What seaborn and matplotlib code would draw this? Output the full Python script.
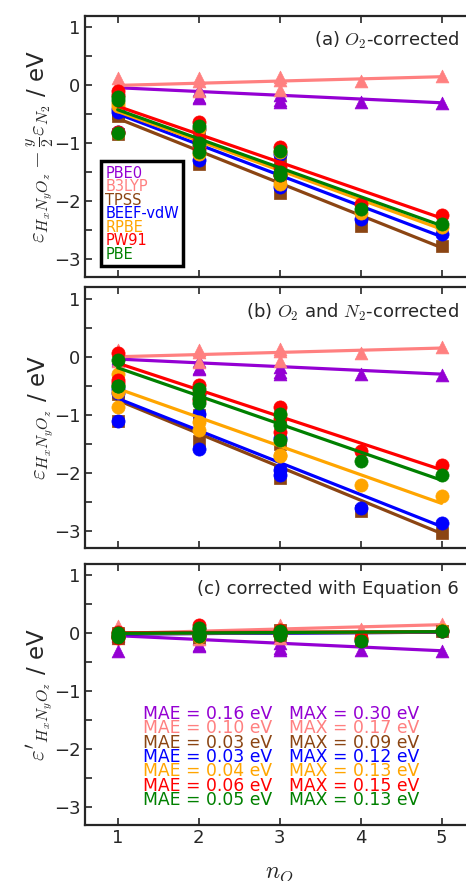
import matplotlib
matplotlib.use("Agg")
import matplotlib.pyplot as plt
import pandas as pd
import seaborn as sns
from matplotlib.ticker import MultipleLocator

functionals = ["PBE0", "B3LYP", "TPSS", "BEEF-vdW", "RPBE", "PW91", "PBE"]
colors = ["darkviolet", "#ff8080", "saddlebrown", "blue", "orange", "red", "green"]
markers = ["^", "^", "s", "o", "o", "o", "o"]
sizes = [85, 85, 70, 90, 90, 90, 90]

# number of O atoms of each compound
n_o = [1, 1, 1, 2, 2, 2, 3, 3, 3, 4, 5]

# hybrids: same in every panel
pbe0 = [-0.03, -0.05, -0.31, -0.08, -0.20, -0.21, -0.17, -0.26, -0.29, -0.29, -0.31]
b3lyp = [0.12, 0.03, -0.08, 0.12, -0.09, 0.08, 0.14, -0.08, 0.10, 0.07, 0.16]

# (a) O2-corrected
a_tpss = [-0.48, -0.52, -0.84, -0.80, -1.10, -1.35, -1.25, -1.60, -1.85, -2.43, -2.77]
a_beef = [-0.40, -0.46, -0.80, -0.75, -1.05, -1.29, -1.18, -1.55, -1.76, -2.31, -2.56]
a_rpbe = [-0.30, -0.36, -0.82, -0.75, -1.05, -1.19, -1.15, -1.55, -1.70, -2.20, -2.45]
a_pw91 = [-0.10, -0.16, -0.80, -0.64, -0.95, -1.10, -1.06, -1.40, -1.55, -2.04, -2.24]
a_pbe = [-0.20, -0.25, -0.82, -0.70, -1.00, -1.15, -1.13, -1.50, -1.55, -2.14, -2.40]

# (b) O2 and N2-corrected
b_tpss = [-0.60, -0.65, -1.11, -0.68, -1.00, -1.45, -1.50, -1.95, -2.09, -2.67, -3.05]
b_beef = [-0.55, -0.62, -1.11, -0.65, -0.98, -1.59, -1.40, -1.95, -2.04, -2.61, -2.87]
b_rpbe = [-0.30, -0.60, -0.86, -0.60, -1.12, -1.26, -1.00, -1.70, -1.72, -2.21, -2.41]
b_pw91 = [0.06, -0.40, -0.45, -0.48, -0.63, -0.75, -0.86, -1.08, -1.30, -1.63, -1.86]
b_pbe = [-0.06, -0.50, -0.50, -0.55, -0.72, -0.80, -0.98, -1.18, -1.43, -1.80, -2.04]

# (c) corrected with Equation 6
c_tpss = [0.00, -0.05, -0.08, 0.06, -0.02, -0.06, 0.05, 0.00, -0.03, -0.11, 0.04]
c_beef = [-0.01, -0.05, -0.06, 0.07, -0.02, -0.05, 0.04, 0.01, -0.03, -0.12, 0.04]
c_rpbe = [0.01, -0.04, -0.06, 0.08, -0.02, -0.06, 0.05, 0.00, -0.02, -0.10, 0.05]
c_pw91 = [0.02, -0.04, -0.08, 0.14, -0.01, -0.05, 0.05, 0.01, -0.03, -0.08, 0.04]
c_pbe = [0.00, -0.04, -0.06, 0.10, -0.02, -0.05, 0.04, 0.01, -0.02, -0.13, 0.04]

# linear fits, values at n_O = 1 and n_O = 5
fit_n = [1, 5]
fit_pbe0 = [-0.04, -0.30]
fit_b3lyp = [0.00, 0.15]
fit_a = {"TPSS": [-0.57, -2.80], "BEEF-vdW": [-0.49, -2.61], "RPBE": [-0.45, -2.48],
         "PW91": [-0.36, -2.29], "PBE": [-0.42, -2.42]}
fit_b = {"TPSS": [-0.75, -3.05], "BEEF-vdW": [-0.72, -2.93], "RPBE": [-0.55, -2.53],
         "PW91": [-0.11, -1.95], "PBE": [-0.19, -2.13]}
fit_c = {"TPSS": [-0.01, 0.02], "BEEF-vdW": [-0.01, 0.02], "RPBE": [0.00, 0.03],
         "PW91": [0.01, 0.03], "PBE": [0.00, 0.03]}

mae = [0.16, 0.10, 0.03, 0.03, 0.04, 0.06, 0.05]
max_err = [0.30, 0.17, 0.09, 0.12, 0.13, 0.15, 0.13]

panels = [
    ("(a) $O_2$-corrected", [pbe0, b3lyp, a_tpss, a_beef, a_rpbe, a_pw91, a_pbe], fit_a,
     r"$\varepsilon_{H_xN_yO_z} - \frac{y}{2}\varepsilon_{N_2}$ / eV"),
    ("(b) $O_2$ and $N_2$-corrected", [pbe0, b3lyp, b_tpss, b_beef, b_rpbe, b_pw91, b_pbe], fit_b,
     r"$\varepsilon_{H_xN_yO_z}$ / eV"),
    ("(c) corrected with Equation 6", [pbe0, b3lyp, c_tpss, c_beef, c_rpbe, c_pw91, c_pbe], fit_c,
     r"$\varepsilon'_{H_xN_yO_z}$ / eV"),
]

sns.set_theme(style="ticks")
plt.rcParams["font.family"] = ["DejaVu Sans"]
plt.rcParams["mathtext.fontset"] = "cm"
plt.rcParams["axes.linewidth"] = 1.6

figure = plt.figure(figsize=(4.66, 8.81), dpi=100)
bottoms = [0.686, 0.378, 0.064]
axes = []
for (title, series, fits, ylabel), bottom in zip(panels, bottoms):
    axis = figure.add_axes([0.183, bottom, 0.834, 0.296])
    axes.append(axis)
    for name, color, marker, size, values in zip(functionals, colors, markers, sizes, series):
        if name == "PBE0":
            fit_values = fit_pbe0
        elif name == "B3LYP":
            fit_values = fit_b3lyp
        else:
            fit_values = fits[name]
        points = pd.DataFrame({"n_O": n_o, "energy": values})
        fit_line = pd.DataFrame({"n_O": fit_n, "energy": fit_values})
        sns.scatterplot(data=points, x="n_O", y="energy", color=color, marker=marker, s=size,
                        edgecolor=color, linewidth=0.5, ax=axis, zorder=3, label=name)
        sns.lineplot(data=fit_line, x="n_O", y="energy", color=color, linewidth=2.3, ax=axis,
                     zorder=3)
    axis.set_xlim(0.6, 5.4)
    axis.set_ylim(-3.3, 1.2)
    axis.xaxis.set_major_locator(MultipleLocator(1))
    axis.yaxis.set_major_locator(MultipleLocator(1))
    axis.yaxis.set_minor_locator(MultipleLocator(0.5))
    axis.tick_params(axis="both", which="both", direction="in", top=True, right=False,
                     labelsize=13, width=1.2)
    axis.tick_params(axis="both", which="major", length=5)
    axis.tick_params(axis="y", which="minor", length=5)
    axis.set_ylabel(ylabel, fontsize=16.5)
    axis.yaxis.set_label_coords(-0.075, 0.5)
    axis.set_xlabel("")
    axis.text(0.962, 0.905, title, transform=axis.transAxes, ha="right", va="center",
              fontsize=13)
    if axis.get_legend() is not None:
        axis.get_legend().remove()

for axis in axes[:2]:
    axis.tick_params(axis="x", labelbottom=False)
axes[2].set_xlabel("$n_O$", fontsize=17, labelpad=9)

handles, labels = axes[0].get_legend_handles_labels()
legend = axes[0].legend(handles[:7], labels[:7], loc="lower left", bbox_to_anchor=(0.04, 0.04),
                        borderaxespad=0, handlelength=0, handletextpad=0, labelspacing=-0.1,
                        fontsize=10.5, frameon=True, fancybox=False, framealpha=1,
                        edgecolor="black", borderpad=0.3)
legend.get_frame().set_linewidth(2.5)
for handle in legend.legend_handles:
    handle.set_visible(False)
for text, color in zip(legend.get_texts(), colors):
    text.set_color(color)

mae_rows = [-1.39, -1.64, -1.89, -2.14, -2.38, -2.63, -2.88]
for row, color, mae_value, max_value in zip(mae_rows, colors, mae, max_err):
    axes[2].text(1.31, row, f"MAE = {mae_value:.2f} eV", color=color, fontsize=12.4,
                 va="center", ha="left")
    axes[2].text(3.11, row, f"MAX = {max_value:.2f} eV", color=color, fontsize=12.4,
                 va="center", ha="left")

figure.savefig("out.png", dpi=100)
plt.close(figure)
